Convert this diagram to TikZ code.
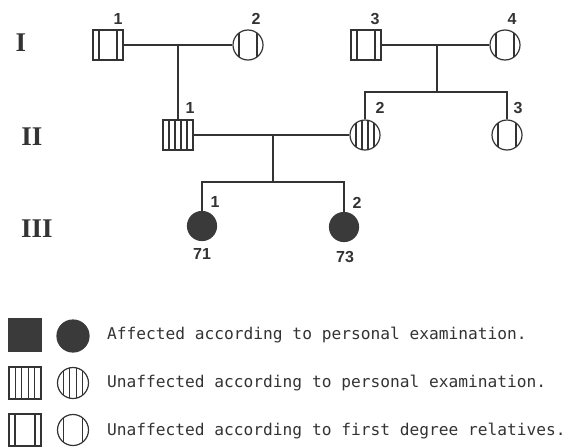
\documentclass[tikz,border=0pt]{standalone}
\usepackage{fontspec}
\setmainfont{Liberation Sans}
\newfontfamily\monof{DejaVu Sans Mono}
\newfontfamily\serifb{Liberation Serif}
\usetikzlibrary{calc}
\definecolor{ink}{HTML}{333333}
\definecolor{fillc}{HTML}{3A3A3A}
\tikzset{
  ind/.style={draw=ink, line width=1.2pt, inner sep=0pt, minimum size=30pt},
  male/.style={ind, rectangle},
  female/.style={ind, circle},
  firstdeg/.style={path picture={
      \draw[ink,line width=1.1pt] ([xshift=6pt]path picture bounding box.north west) -- ([xshift=6pt]path picture bounding box.south west);
      \draw[ink,line width=1.1pt] ([xshift=-6pt]path picture bounding box.north east) -- ([xshift=-6pt]path picture bounding box.south east);
  }},
  exam/.style={path picture={
      \foreach \i in {1,...,4}{
        \draw[ink,line width=1.1pt]
          ($(path picture bounding box.north west)!\i/5!(path picture bounding box.north east)$) --
          ($(path picture bounding box.south west)!\i/5!(path picture bounding box.south east)$);}
  }},
  aff/.style={fill=fillc, draw=fillc},
  num/.style={font=\bfseries\fontsize{16}{16}\selectfont, text=ink, inner sep=0pt},
  gen/.style={font=\serifb\bfseries\fontsize{27}{27}\selectfont, text=ink, inner sep=0pt},
  legtext/.style={font=\monof\fontsize{16.2}{16.2}\selectfont, text=ink, anchor=west, inner sep=0pt},
  conn/.style={draw=ink, line width=1.1pt},
}
\begin{document}
\begin{tikzpicture}[x=1pt,y=-1pt]
\useasboundingbox (0,0) rectangle (572,447);
% generation labels
\node[gen] (gI) at (21,43) {I};
\node[gen] (gII) at (32,137) {II};
\node[gen] (gIII) at (37,229) {III};
% generation I
\node[male,firstdeg] (I1) at (108,45) {};
\node[female,firstdeg] (I2) at (248,45) {};
\node[male,firstdeg] (I3) at (366,45) {};
\node[female,firstdeg] (I4) at (505,45) {};
% generation II
\node[male,exam] (II1) at (178,135) {};
\node[female,exam] (II2) at (365,135) {};
\node[female,firstdeg] (II3) at (507,135) {};
% generation III
\node[female,aff,minimum size=29pt] (III1) at (202,226) {};
\node[female,aff,minimum size=29pt] (III2) at (344,227) {};
% numbers
\node[num] (nI1) at (118,19) {1};
\node[num] (nI2) at (256,19) {2};
\node[num] (nI3) at (375,19) {3};
\node[num] (nI4) at (512,19) {4};
\node[num] (nII1) at (190,108) {1};
\node[num] (nII2) at (380,108) {2};
\node[num] (nII3) at (518,108) {3};
\node[num] (nIII1) at (215,202) {1};
\node[num] (nIII2) at (357,203) {2};
\node[num] (a71) at (202,254) {71};
\node[num] (a73) at (345,257) {73};
% connectors
\draw[conn] (I1) -- (I2);
\draw[conn] (II1.north |- I1.east) -- (II1.north);
\draw[conn] (I3) -- (I4);
\coordinate (m2) at (437,45);
\coordinate (s2) at (437,92);
\draw[conn] (m2) -- (s2);
\draw[conn] (II2.north) |- (s2) -| (II3.north);
\draw[conn] (II1) -- (II2);
\coordinate (m3) at (273,135);
\coordinate (s3) at (273,182);
\draw[conn] (m3) -- (s3);
\draw[conn] (III1.north) |- (s3) -| (III2.north);
% legend
\node[male,aff,minimum size=33pt] (L1s) at (25,335) {};
\node[female,aff,minimum size=32pt] (L1c) at (73,336) {};
\node[male,exam,minimum size=32pt] (L2s) at (25,383) {};
\node[female,exam,minimum size=31pt] (L2c) at (73,383) {};
\node[male,firstdeg,minimum size=32pt] (L3s) at (25,430) {};
\node[female,firstdeg,minimum size=31pt] (L3c) at (73,430) {};
\node[legtext] (t1) at (107,335) {Affected according to personal examination.};
\node[legtext] (t2) at (107,383) {Unaffected according to personal examination.};
\node[legtext] (t3) at (107,431) {Unaffected according to first degree relatives.};
\end{tikzpicture}
\end{document}
